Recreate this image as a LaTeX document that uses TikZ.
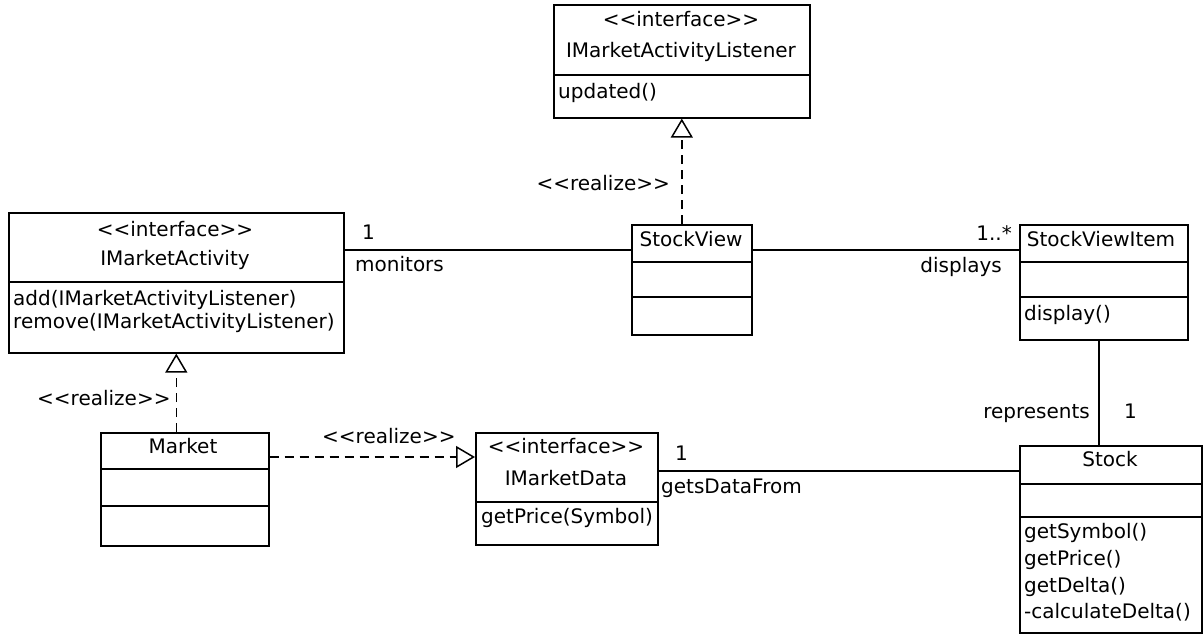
\documentclass[tikz,border=0pt]{standalone}
\usepackage{fontspec}
\setmainfont{DejaVu Sans}
\usetikzlibrary{arrows.meta,shadows}
% guillemet-free stereotype brackets
\newcommand\stereo[1]{<\kern0pt<#1>\kern0pt>}
\begin{document}
\begin{tikzpicture}[x=1pt,y=-1pt,
  every node/.style={font=\fontsize{20}{24}\selectfont, inner sep=0pt},
  classbox/.style={draw, line width=1.6pt, fill=white, anchor=north west,
    drop shadow={shadow xshift=1.5pt, shadow yshift=-1.5pt, fill=black, opacity=0.22}},
  sep/.style={line width=2.2pt},
  assoc/.style={line width=1.5pt},
  realize/.style={line width=1.5pt, dash pattern=on 9pt off 6pt,
    -{Triangle[open, length=19pt, width=22pt, line width=1.5pt]}},
  ctr/.style={anchor=base},
  lft/.style={anchor=base west},
  rgt/.style={anchor=base east},
]
\useasboundingbox (0,0) rectangle (1203,642);

% ---- class boxes ----
\node[classbox, minimum width=256pt, minimum height=113pt] (ial) at (553,4) {};
\node[classbox, minimum width=335pt, minimum height=140pt] (ma) at (8,212) {};
\node[classbox, minimum width=120pt, minimum height=110pt] (sv) at (631,224) {};
\node[classbox, minimum width=168pt, minimum height=115pt] (svi) at (1019,224) {};
\node[classbox, minimum width=168pt, minimum height=113pt] (market) at (100,432) {};
\node[classbox, minimum width=182pt, minimum height=112pt] (imd) at (475,432) {};
\node[classbox, minimum width=182pt, minimum height=187pt] (stock) at (1019,445) {};

% ---- compartment separators ----
\draw[sep] (ial.west |- 0,75) -- (ial.east |- 0,75);
\draw[sep] (ma.west |- 0,282) -- (ma.east |- 0,282);
\draw[sep] (sv.west |- 0,262) -- (sv.east |- 0,262);
\draw[sep] (sv.west |- 0,297) -- (sv.east |- 0,297);
\draw[sep] (svi.west |- 0,262) -- (svi.east |- 0,262);
\draw[sep] (svi.west |- 0,297) -- (svi.east |- 0,297);
\draw[sep] (market.west |- 0,469) -- (market.east |- 0,469);
\draw[sep] (market.west |- 0,506) -- (market.east |- 0,506);
\draw[sep] (imd.west |- 0,502) -- (imd.east |- 0,502);
\draw[sep] (stock.west |- 0,484) -- (stock.east |- 0,484);
\draw[sep] (stock.west |- 0,517) -- (stock.east |- 0,517);

% ---- class contents ----
\node[ctr] (ialst) at (681,27) {\stereo{interface}};
\node[ctr] (ialname) at (681,58) {IMarketActivityListener};
\node[lft] (ialop) at (558,99) {updated()};

\node[ctr] (mast) at (175,236) {\stereo{interface}};
\node[ctr] (maname) at (175,265) {IMarketActivity};
\node[lft] (maop1) at (13,305) {add(IMarketActivityListener)};
\node[lft] (maop2) at (13,328) {remove(IMarketActivityListener)};

\node[ctr] (svname) at (691,246) {StockView};

\node[ctr] (sviname) at (1101,246) {StockViewItem};
\node[lft] (sviop) at (1024,320) {display()};

\node[ctr] (marketname) at (183,453) {Market};

\node[ctr] (imdst) at (566,453) {\stereo{interface}};
\node[ctr] (imdname) at (566,485) {IMarketData};
\node[lft] (imdop) at (481,523) {getPrice(Symbol)};

\node[ctr] (stockname) at (1110,466) {Stock};
\node[lft] (stockop1) at (1024,538) {getSymbol()};
\node[lft] (stockop2) at (1024,565) {getPrice()};
\node[lft] (stockop3) at (1024,592) {getDelta()};
\node[lft] (stockop4) at (1024,618) {-calculateDelta()};

% ---- realizations ----
\draw[realize] (sv.north -| ial.south) -- (ial.south);
\draw[realize] (market.north -| ma.south) -- (ma.south);
\draw[realize] ([yshift=-25pt]market.north east) -- ([yshift=-25pt]market.north east -| imd.west);
\node[rgt] (rz1) at (670,190) {\stereo{realize}};
\node[lft] (rz2) at (37,405) {\stereo{realize}};
\node[lft] (rz3) at (322,443) {\stereo{realize}};

% ---- associations ----
\draw[assoc] ([yshift=-38pt]ma.north east) -- ([yshift=-38pt]ma.north east -| sv.west);
\node[lft] (m1) at (362,239) {1};
\node[lft] (mon) at (355,271) {monitors};

\draw[assoc] ([yshift=-26pt]sv.north east) -- ([yshift=-26pt]sv.north east -| svi.west);
\node[rgt] (dmult) at (1012,240) {1..*};
\node[rgt] (disp) at (1002,272) {displays};

\draw[assoc] ([xshift=-5pt]svi.south) -- ([xshift=-5pt]svi.south |- stock.north);
\node[rgt] (rep) at (1090,418) {represents};
\node[lft] (r1) at (1124,418) {1};

\draw[assoc] ([yshift=-39pt]imd.north east) -- ([yshift=-39pt]imd.north east -| stock.west);
\node[lft] (g1) at (675,460) {1};
\node[lft] (gdf) at (661,493) {getsDataFrom};
\end{tikzpicture}
\end{document}
